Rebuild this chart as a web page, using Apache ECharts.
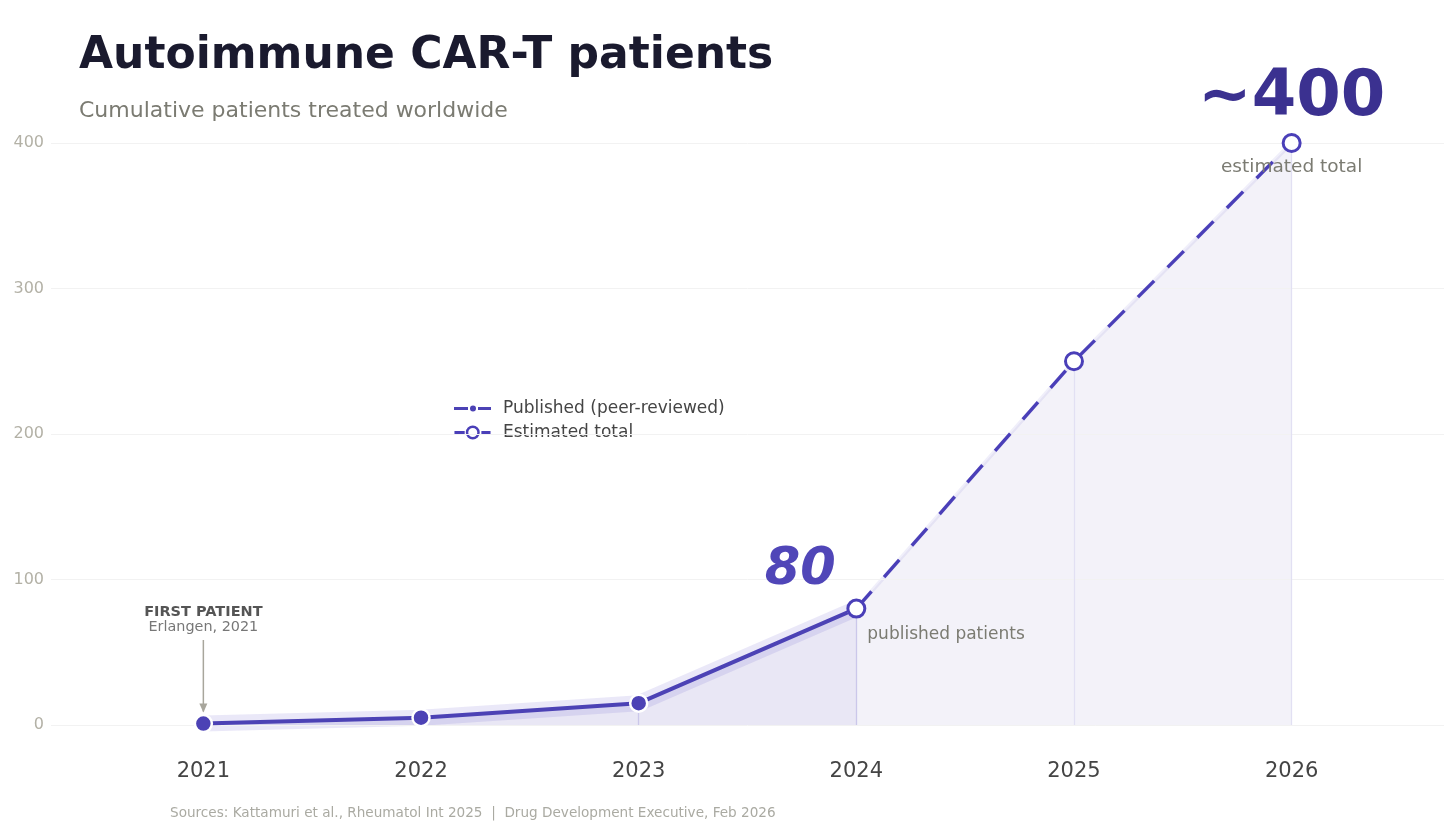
<!DOCTYPE html>
<html>
<head>
<meta charset="utf-8">
<script src="https://cdn.jsdelivr.net/npm/echarts@6/dist/echarts.min.js"></script>
<style>
html,body{margin:0;padding:0;background:#fff;}
#chart{width:1456px;height:832px;}
</style>
</head>
<body>
<div id="chart"></div>
<script>
// ---- data ----
const years = [2021, 2022, 2023, 2024, 2025, 2026];
const publishedYears = [2021, 2022, 2023, 2024];
const publishedValues = [1, 5, 15, 80];
const estimatedYears = [2024, 2025, 2026];
const estimatedValues = [80, 250, 400];
const yTicks = [0, 100, 200, 300, 400];
const titleText = 'Autoimmune CAR-T patients';
const subtitleText = 'Cumulative patients treated worldwide';
const sourceText = 'Sources: Kattamuri et al., Rheumatol Int 2025  |  Drug Development Executive, Feb 2026';

const FONT = '"DejaVu Sans", sans-serif';
const MAIN = '#4c42b5';
const EST = '#4a3fb8';

// legend handle shapes (dash - marker - dash)
const ICON_PUB = 'path://M0 6.5h14v3h-14z M24 6.5h13v3h-13z M16 8a3 3 0 1 0 6 0a3 3 0 1 0 -6 0z';
const ICON_EST = 'path://M1.5 6.5h9.5v3h-9.5z M26.5 6.5h8.5v3h-8.5z M12 8a6.5 6.5 0 1 1 13 0a6.5 6.5 0 1 1 -13 0z M14.3 8a4.2 4.2 0 1 0 8.4 0a4.2 4.2 0 1 0 -8.4 0z';

const pubData = publishedYears.map((y, i) => [y, publishedValues[i]]);
const estData = estimatedYears.map((y, i) => [y, estimatedValues[i]]);

const dropPub = publishedYears.slice(2).map((y, i) => [{coord: [y, 0]}, {coord: [y, publishedValues[i + 2]]}]);
const dropEst = estimatedYears.slice(1).map((y, i) => [{coord: [y, 0]}, {coord: [y, estimatedValues[i + 1]]}]);

const chart = echarts.init(document.getElementById('chart'), null, {renderer: 'canvas'});

const option = {
  backgroundColor: '#ffffff',
  animation: false,
  textStyle: {fontFamily: FONT},
  grid: {left: 51, right: 12, top: 84.8, bottom: 77.9},
  xAxis: {
    type: 'value', min: 2020.3, max: 2026.7,
    axisLine: {show: false}, axisTick: {show: false}, splitLine: {show: false},
    axisLabel: {customValues: years, formatter: v => String(v), fontSize: 21, color: '#444444', margin: 7, fontFamily: FONT}
  },
  yAxis: {
    type: 'value', min: -20, max: 440,
    axisLine: {show: false}, axisTick: {show: false}, splitLine: {show: false},
    axisLabel: {customValues: yTicks, fontSize: 16, color: '#b3b1a6', margin: 7, fontFamily: FONT, padding: [6, 0, 0, 0]}
  },
  legend: {
    left: 449, top: 395, orient: 'vertical', itemGap: 7, itemWidth: 37, itemHeight: 14,
    symbolKeepAspect: true,
    textStyle: {fontSize: 17, color: '#444444', fontFamily: FONT, padding: [0, 0, 0, 7]},
    data: [
      {name: 'Published (peer-reviewed)', icon: ICON_PUB, itemStyle: {color: MAIN, borderWidth: 0}},
      {name: 'Estimated total', icon: ICON_EST, itemStyle: {color: EST, borderWidth: 0}}
    ]
  },
  series: [
    {
      name: 'grid', type: 'line', data: [], silent: true,
      markLine: {
        silent: true, symbol: 'none', label: {show: false},
        lineStyle: {color: '#f2f2f2', width: 1, type: 'solid'},
        data: yTicks.map(v => ({yAxis: v}))
      }
    },
    {
      name: 'estGlow', type: 'line', data: estData, symbol: 'none', silent: true, z: 2,
      lineStyle: {color: 'rgba(90,80,200,0.09)', width: 4},
      areaStyle: {color: '#f3f2f9', opacity: 1}
    },
    {
      name: 'pubGlow', type: 'line', data: pubData, symbol: 'none', silent: true, z: 3,
      lineStyle: {color: 'rgba(90,80,200,0.13)', width: 16},
      areaStyle: {color: '#e9e7f5', opacity: 1}
    },
    {
      name: 'Published (peer-reviewed)', type: 'line', data: pubData, z: 5,
      symbol: 'circle', symbolSize: 17,
      lineStyle: {color: MAIN, width: 4},
      itemStyle: {color: MAIN, borderColor: '#ffffff', borderWidth: 2.5},
      markLine: {
        silent: true, symbol: 'none', label: {show: false},
        lineStyle: {color: '#cbc7ea', width: 1.3, type: 'solid'},
        data: dropPub
      }
    },
    {
      name: 'Estimated total', type: 'line', data: estData, z: 6,
      symbol: 'circle', symbolSize: 17,
      lineStyle: {color: EST, width: 3.4, type: [23, 19]},
      itemStyle: {color: '#ffffff', borderColor: EST, borderWidth: 3},
      markLine: {
        silent: true, symbol: 'none', label: {show: false},
        lineStyle: {color: '#e2e0f3', width: 1.3, type: 'solid'},
        data: dropEst
      }
    }
  ]
};
chart.setOption(option);

function px(x, y) { return chart.convertToPixel({gridIndex: 0}, [x, y]); }

const pFirst = px(publishedYears[0], publishedValues[0]);
const pPub = px(publishedYears[publishedYears.length - 1], publishedValues[publishedValues.length - 1]);
const pEst = px(estimatedYears[estimatedYears.length - 1], estimatedValues[estimatedValues.length - 1]);

function txt(text, x, y, size, color, weight, align, style) {
  return {
    type: 'text', silent: true, z: 50,
    style: {
      text: text, x: x, y: y, fill: color,
      font: (style || 'normal') + ' ' + (weight || 'normal') + ' ' + size + 'px ' + FONT,
      textAlign: align || 'left', align: align || 'left',
      textVerticalAlign: 'middle', verticalAlign: 'middle'
    }
  };
}

chart.setOption({
  graphic: [
    txt(titleText, 79, 57, 44, '#1a1a2e', 'bold', 'left'),
    txt(subtitleText, 79, 111, 22, '#7b7b72', 'normal', 'left'),
    txt(sourceText, 170, 813, 13.6, '#aaaaa2', 'normal', 'left'),
    txt('FIRST PATIENT', pFirst[0], 612, 14.5, '#555555', 'bold', 'center'),
    txt('Erlangen, 2021', pFirst[0], 627, 14.4, '#777777', 'normal', 'center'),
    {
      type: 'line', silent: true, z: 50,
      shape: {x1: pFirst[0], y1: 640, x2: pFirst[0], y2: pFirst[1] - 12},
      style: {stroke: '#a8a69c', lineWidth: 1.5}
    },
    {
      type: 'polygon', silent: true, z: 50,
      shape: {points: [[pFirst[0] - 4, pFirst[1] - 20], [pFirst[0] + 4, pFirst[1] - 20], [pFirst[0], pFirst[1] - 11]]},
      style: {fill: '#a8a69c'}
    },
    txt(String(publishedValues[publishedValues.length - 1]), pPub[0] - 56, pPub[1] - 38, 51, '#5046b8', 'bold', 'center', 'italic'),
    txt('published patients', pPub[0] + 11, pPub[1] + 26, 17, '#7b7b72', 'normal', 'left'),
    txt('~' + estimatedValues[estimatedValues.length - 1], pEst[0], pEst[1] - 45, 64, '#3b3190', 'bold', 'center'),
    txt('estimated total', pEst[0], pEst[1] + 24, 18.5, '#7b7b72', 'normal', 'center')
  ]
});
</script>
</body>
</html>
